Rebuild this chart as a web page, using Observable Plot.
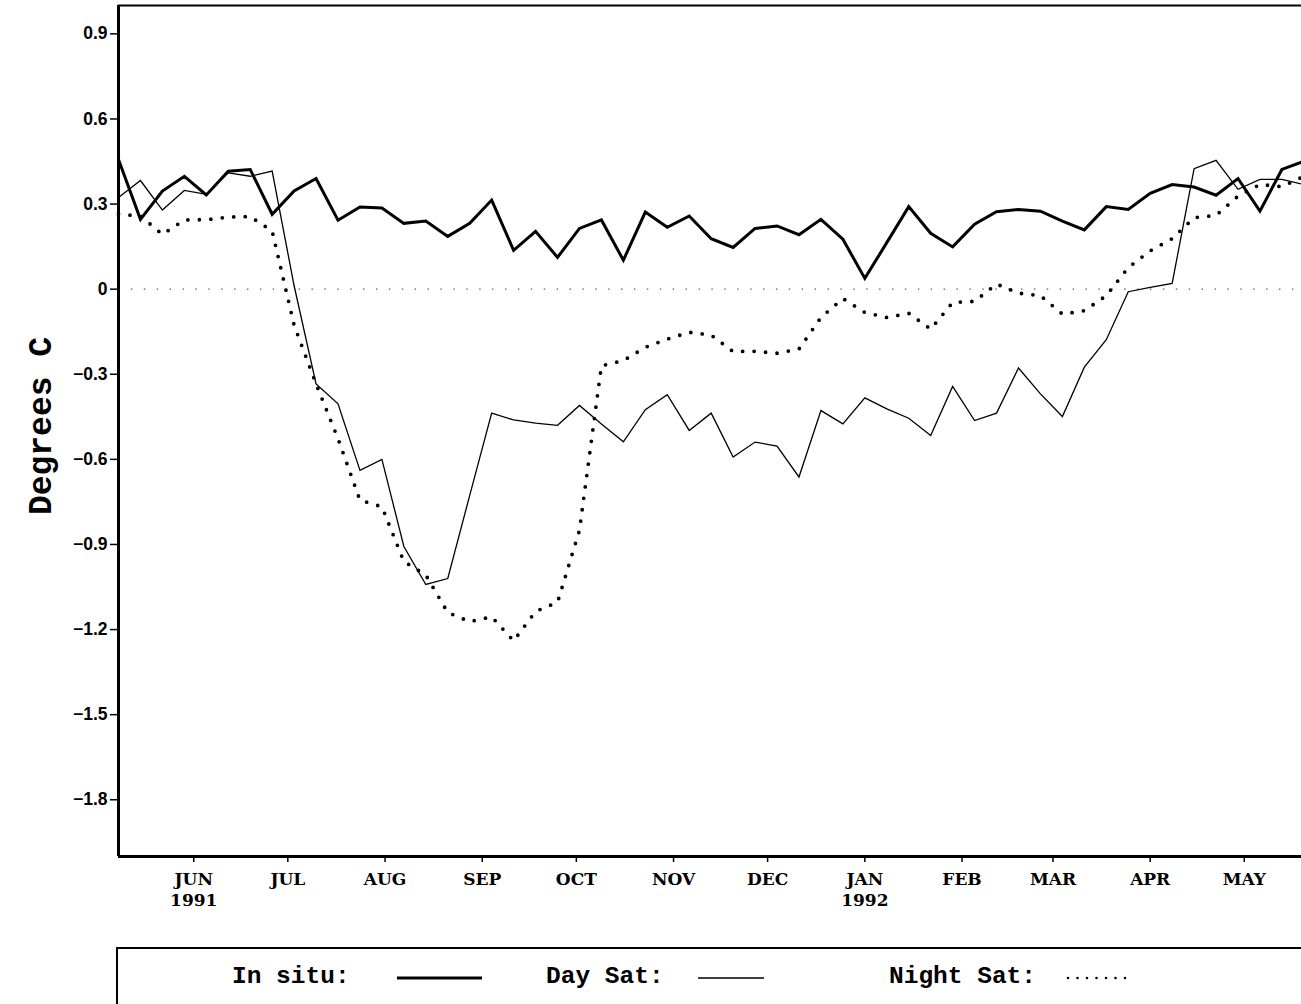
<!DOCTYPE html>
<html>
<head>
<meta charset="utf-8">
<script src="https://cdn.jsdelivr.net/npm/d3@7"></script>
<script src="https://cdn.jsdelivr.net/npm/@observablehq/plot@0.6"></script>
<style>
  html, body { margin: 0; padding: 0; background: #fff; overflow: hidden; }
  #chart svg { display: block; }
  #legend svg { display: block; }
</style>
</head>
<body>
<div id="chart"></div>
<div id="legend"></div>
<script>
// ---- data (weekly values, degrees C) ----
const weeks = ["1991-05-08","1991-05-15","1991-05-22","1991-05-29","1991-06-05","1991-06-12","1991-06-19","1991-06-26","1991-07-03","1991-07-10","1991-07-17","1991-07-24","1991-07-31","1991-08-07","1991-08-14","1991-08-21","1991-08-28","1991-09-04","1991-09-11","1991-09-18","1991-09-25","1991-10-02","1991-10-09","1991-10-16","1991-10-23","1991-10-30","1991-11-06","1991-11-13","1991-11-20","1991-11-27","1991-12-04","1991-12-11","1991-12-18","1991-12-25","1992-01-01","1992-01-08","1992-01-15","1992-01-22","1992-01-29","1992-02-05","1992-02-12","1992-02-19","1992-02-26","1992-03-04","1992-03-11","1992-03-18","1992-03-25","1992-04-01","1992-04-08","1992-04-15","1992-04-22","1992-04-29","1992-05-06","1992-05-13","1992-05-20"];

const inSitu = [0.457,0.246,0.346,0.398,0.332,0.416,0.422,0.264,0.346,0.390,0.243,0.290,0.286,0.232,0.240,0.186,0.232,0.314,0.137,0.204,0.112,0.214,0.244,0.102,0.272,0.218,0.258,0.178,0.147,0.214,0.223,0.192,0.246,0.176,0.038,0.164,0.291,0.197,0.149,0.229,0.273,0.281,0.275,0.240,0.209,0.291,0.281,0.338,0.369,0.360,0.331,0.390,0.275,0.422,0.451];

const daySat = [0.323,0.383,0.279,0.348,0.334,0.410,0.398,0.416,0.012,-0.334,-0.404,-0.639,-0.600,-0.907,-1.041,-1.020,-0.727,-0.437,-0.461,-0.472,-0.480,-0.410,-0.475,-0.538,-0.425,-0.372,-0.498,-0.437,-0.592,-0.539,-0.553,-0.662,-0.428,-0.475,-0.383,-0.422,-0.455,-0.516,-0.343,-0.463,-0.437,-0.278,-0.369,-0.449,-0.275,-0.178,-0.009,0.006,0.020,0.425,0.454,0.352,0.387,0.387,0.369];

const nightSat = [0.264,0.258,0.193,0.244,0.245,0.254,0.256,0.205,-0.127,-0.334,-0.527,-0.744,-0.767,-0.960,-1.008,-1.140,-1.172,-1.155,-1.240,-1.136,-1.104,-0.850,-0.270,-0.252,-0.205,-0.176,-0.152,-0.162,-0.220,-0.219,-0.226,-0.211,-0.100,-0.033,-0.082,-0.100,-0.085,-0.141,-0.047,-0.043,0.018,-0.014,-0.023,-0.088,-0.076,-0.023,0.076,0.135,0.178,0.252,0.260,0.328,0.369,0.361,0.398];

const monthTicks = ["1991-06-01","1991-07-01","1991-08-01","1991-09-01","1991-10-01","1991-11-01","1991-12-01","1992-01-01","1992-02-01","1992-03-01","1992-04-01","1992-05-01"];
const monthLabels = ["JUN\n1991","JUL","AUG","SEP","OCT","NOV","DEC","JAN\n1992","FEB","MAR","APR","MAY"];
const yTicks = [-1.8,-1.5,-1.2,-0.9,-0.6,-0.3,0,0.3,0.6,0.9];
const xDomain = ["1991-05-08T00:00Z","1992-05-19T06:00Z"];
const yDomain = [-2, 1];
const yLabel = "Degrees C";
const legendItems = ["In situ:", "Day Sat:", "Night Sat:"];

// ---- build table ----
const rows = (vals) => weeks.map((w, i) => ({date: new Date(w), value: vals[i]}));
const dataInSitu = rows(inSitu);
const dataDay = rows(daySat);
const dataNight = rows(nightSat);

const serif = "'DejaVu Serif', 'Liberation Serif', serif";
const mono = "'Liberation Mono', 'DejaVu Sans Mono', monospace";
const sans = "'Liberation Sans', Arial, sans-serif";
const fmtY = d => d === 0 ? "0" : (d < 0 ? "\u2212" : "") + Math.abs(d).toFixed(1);

const chart = Plot.plot({
  width: 1301,
  height: 910,
  marginLeft: 118,
  marginRight: 0,
  marginTop: 5,
  marginBottom: 54,
  style: {background: "#fff", color: "#000", overflow: "visible"},
  x: {type: "utc", domain: xDomain.map(d => new Date(d))},
  y: {domain: yDomain},
  marks: [
    Plot.ruleY([0], {stroke: "#555", strokeWidth: 1.4, strokeDasharray: "1.4 11.5"}),
    Plot.axisY({
      ticks: yTicks, tickFormat: fmtY, tickSize: 8, tickPadding: 3,
      fontSize: 17.5, fontWeight: "bold", fontFamily: sans, label: null, strokeWidth: 1.5
    }),
    Plot.axisX({
      ticks: monthTicks.map(d => new Date(d)),
      tickFormat: (d, i) => monthLabels[i],
      tickSize: 6, tickPadding: 8, lineHeight: 1.22,
      fontSize: 17, fontWeight: "bold", fontFamily: serif, label: null, strokeWidth: 1.5
    }),
    Plot.text([yLabel], {
      frameAnchor: "left", textAnchor: "middle", rotate: -90, dx: -78, dy: -5,
      fontSize: 33, fontWeight: "bold", fontFamily: mono, fill: "#000"
    }),
    Plot.line(dataNight, {x: "date", y: "value", stroke: "#000", strokeWidth: 3.8,
      strokeDasharray: "0 11.5", strokeLinecap: "round"}),
    Plot.line(dataDay, {x: "date", y: "value", stroke: "#000", strokeWidth: 1.3, strokeLinejoin: "miter", strokeMiterlimit: 4}),
    Plot.line(dataInSitu, {x: "date", y: "value", stroke: "#000", strokeWidth: 3, strokeLinejoin: "miter", strokeMiterlimit: 4}),
    Plot.ruleX([new Date(xDomain[0])], {stroke: "#000", strokeWidth: 3}),
    Plot.ruleY([yDomain[0]], {stroke: "#000", strokeWidth: 3}),
    Plot.ruleY([yDomain[1]], {stroke: "#000", strokeWidth: 2})
  ]
});
document.getElementById("chart").appendChild(chart);

// ---- legend (below the SVG) ----
const lg = d3.create("svg").attr("width", 1301).attr("height", 94)
  .attr("font-family", mono).attr("font-weight", "bold").attr("font-size", 24.5);
lg.append("rect").attr("x", 117).attr("y", 38).attr("width", 1300).attr("height", 200)
  .attr("fill", "none").attr("stroke", "#000").attr("stroke-width", 2);
const specs = [
  {text: legendItems[0], x: 232, lx1: 397, lx2: 482, w: 3, dash: null},
  {text: legendItems[1], x: 546, lx1: 698, lx2: 764, w: 1.3, dash: null},
  {text: legendItems[2], x: 889, lx1: 1068, lx2: 1126, w: 2.6, dash: "0 9.5"}
];
for (const s of specs) {
  lg.append("text").attr("x", s.x).attr("y", 73).text(s.text);
  const ln = lg.append("line").attr("x1", s.lx1).attr("x2", s.lx2).attr("y1", 68).attr("y2", 68)
    .attr("stroke", "#000").attr("stroke-width", s.w);
  if (s.dash) ln.attr("stroke-dasharray", s.dash).attr("stroke-linecap", "round");
}
document.getElementById("legend").appendChild(lg.node());
</script>
</body>
</html>
